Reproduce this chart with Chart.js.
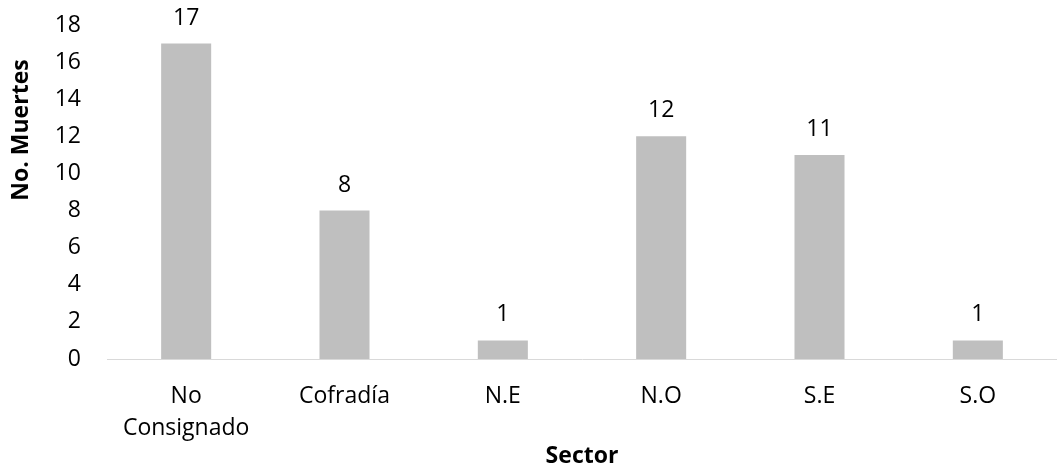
<!DOCTYPE html>
<html>
<head>
<meta charset="utf-8">
<script src="https://cdn.jsdelivr.net/npm/chart.js@4/dist/chart.umd.min.js"></script>
<style>
  html, body { margin: 0; padding: 0; background: #ffffff; }
  #wrap { width: 1057px; height: 470px; position: relative; }
</style>
</head>
<body>
<div id="wrap"><canvas id="chart"></canvas></div>
<script>
// Deaths by sector
const sectors = [["No", "Consignado"], "Cofradía", "N.E", "N.O", "S.E", "S.O"];
const deaths = [17, 8, 1, 12, 11, 1];
const yTicks = [0, 2, 4, 6, 8, 10, 12, 14, 16, 18];
const yTitle = "No. Muertes";
const xTitle = "Sector";

const FONT = "'Open Sans', 'Liberation Sans', sans-serif";
const TEXT = "#000000";
const SIZE = 23;

// Value written above each bar
const barValues = {
  id: "barValues",
  afterDatasetsDraw(chart) {
    const ctx = chart.ctx;
    const meta = chart.getDatasetMeta(0);
    ctx.save();
    ctx.font = SIZE + "px " + FONT;
    ctx.fillStyle = TEXT;
    ctx.textAlign = "center";
    ctx.textBaseline = "alphabetic";
    meta.data.forEach((bar, i) => {
      ctx.fillText(String(chart.data.datasets[0].data[i]), bar.x, bar.y - 19);
    });
    ctx.restore();
  }
};

// Rotated title of the value axis
const valueAxisTitle = {
  id: "valueAxisTitle",
  afterDraw(chart) {
    const ctx = chart.ctx;
    ctx.save();
    ctx.font = "bold " + SIZE + "px " + FONT;
    ctx.fillStyle = TEXT;
    ctx.textAlign = "center";
    ctx.textBaseline = "middle";
    ctx.translate(21, 130);
    ctx.rotate(-Math.PI / 2);
    ctx.fillText(yTitle, 0, 0);
    ctx.restore();
  }
};

new Chart(document.getElementById("chart"), {
  type: "bar",
  data: {
    labels: sectors,
    datasets: [{
      data: deaths,
      backgroundColor: "#bfbfbf",
      borderWidth: 0,
      barPercentage: 0.316,
      categoryPercentage: 1.0
    }]
  },
  options: {
    responsive: true,
    maintainAspectRatio: false,
    animation: false,
    layout: { padding: { top: 25, right: 0, bottom: 0, left: 0 } },
    plugins: {
      legend: { display: false },
      tooltip: { enabled: false }
    },
    scales: {
      x: {
        grid: { display: false },
        border: { display: true, color: "#d9d9d9", width: 1 },
        ticks: {
          color: TEXT,
          font: { family: FONT, size: SIZE, lineHeight: 1.4 },
          padding: 13,
          maxRotation: 0,
          autoSkip: false
        },
        title: {
          display: true,
          text: xTitle,
          color: TEXT,
          font: { family: FONT, size: SIZE, weight: "bold" },
          padding: { top: 0, bottom: 0 }
        },
        afterFit(scale) {
          scale.height = 111;
          scale.paddingLeft = 0;
          scale.paddingRight = 0;
        }
      },
      y: {
        min: 0,
        max: 18,
        grid: { display: false },
        border: { display: false },
        afterBuildTicks(scale) { scale.ticks = yTicks.map(v => ({ value: v })); },
        ticks: {
          color: TEXT,
          font: { family: FONT, size: SIZE },
          padding: 18
        },
        afterFit(scale) {
          scale.width = 107;
          scale.paddingTop = 0;
          scale.paddingBottom = 0;
        }
      }
    }
  },
  plugins: [barValues, valueAxisTitle]
});
</script>
</body>
</html>
